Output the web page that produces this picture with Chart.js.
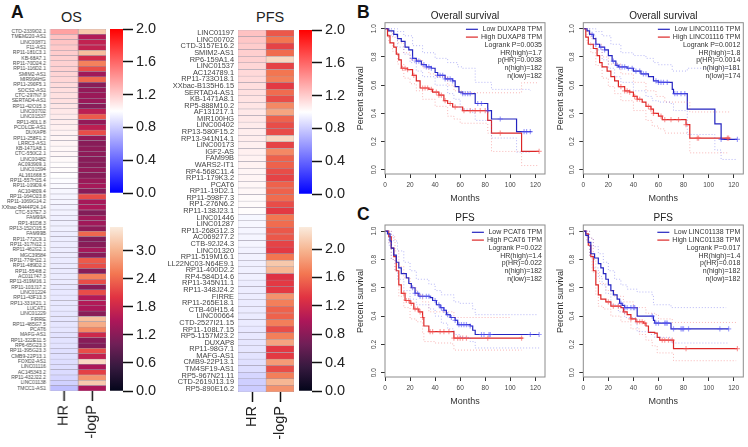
<!DOCTYPE html>
<html><head><meta charset="utf-8">
<script src="https://cdn.jsdelivr.net/npm/chart.js@4"></script>
<style>
html,body{margin:0;padding:0;background:#fff;width:748px;height:447px;overflow:hidden;font-family:"Liberation Sans",Arial,sans-serif}
canvas{position:absolute;display:block;filter:blur(.35px)}
.t{position:absolute;color:#111;line-height:1;white-space:nowrap}
.l{font-weight:bold;font-size:17.5px}
.h{font-size:14.5px;color:#222}
</style></head><body>
<div class="t l" style="left:11px;top:4px">A</div>
<div class="t l" style="left:357px;top:4px">B</div>
<div class="t l" style="left:357px;top:206px">C</div>
<div class="t h" style="left:61px;top:10px">OS</div>
<div class="t h" style="left:256px;top:10px">PFS</div>
<script>
// ---- Heatmap data ----
const heatColumns=['HR','-logP'];
const osGenes=['CTD-2339O2.1','TMEM220-AS1','LINC00871','F11-AS1','RP11-181C3.1','KB-68A7.1','RP11-70D24.2','RP11-116D2.1','SMIM2-AS1','MIR99AHG','RP11-290F5.1','SOCS2-AS1','CTC-297N7.9','SERTAD4-AS1','RP11-42O15.3','LINC00702','LINC01537','RP11-80L1.8','PCOLCE-AS1','DUXAP8','RP11-258F1.2','LRRC3-AS1','KB-1471A8.1','CTC-550C2.1','LINC00482','AC093909.1','LINC01594','AL161668.5','RP11-557H15.4','RP11-109D9.4','AC104809.4','RP11-164O23.8','RP11-1069G14.2','XXbac-B444P24.14','CTC-537E7.3','FAM99A','RP1-81D8.3','RP13-152O15.5','FAM99B','RP11-772C9.1','RP11-317N12.1','RP11-462G2.1','MGC39584','RP11-776H12.1','RP11-489D2.2','RP11-554I8.2','AC011747.3','RP11-819M16.1','RP11-103J17.2','LINC01224','RP11-43F13.3','RP11-331K21.1','LUCAT1','LINC01229','FIRRE','RP11-485G7.5','PCAT6','MAFG-AS1','RP11-322E11.5','RP6-65G23.3','RP11-395G23.3','CMB9-22P13.1','FOXD2-AS1','LINC01116','AC145343.2','RP11-432J22.2','LINC01138','TMCC1-AS1'];
const osHR=[1.37,1.24,1.23,1.21,1.2,1.19,1.18,1.18,1.17,1.16,1.14,1.13,1.12,1.12,1.1,1.09,1.08,1.07,1.06,1.05,1.04,1.04,1.03,1.03,1.02,1.01,1.01,1,.99,.98,.97,.96,.96,.95,.95,.94,.94,.94,.93,.93,.93,.93,.93,.92,.92,.92,.92,.92,.91,.91,.91,.91,.91,.9,.9,.9,.9,.89,.89,.89,.88,.88,.87,.87,.86,.84,.82,.75];
const osLogP=[3.2,1.55,1.7,1.7,3.1,1.85,2.6,2.2,1.4,2.4,1.2,1.3,1.35,1.35,1.2,1.65,2.3,1.3,1.65,2.2,1.3,1.2,1.25,1.25,1.2,1.2,1.3,1.2,1.35,1.45,1.2,2.2,1.45,1.5,1.15,1.4,1.4,1.25,2.4,1.15,1.2,1.45,1.2,2.3,2.2,1.2,2.6,2.2,1.2,2.2,1.55,1.55,1.5,1.2,3.1,2.95,2.65,1.8,1.2,1.15,2.2,1.7,3.35,1.5,2.1,2.75,3.2,1.5];
const pfsGenes=['LINC01197','LINC00702','CTD-3157E16.2','SMIM2-AS1','RP6-159A1.4','LINC01537','AC124789.1','RP11-733O18.1','XXbac-B135H6.15','SERTAD4-AS1','KB-1471A8.1','RP5-888M10.2','AF131217.1','MIR100HG','LINC00402','RP13-580F15.2','RP13-941N14.1','LINC00173','IGF2-AS','FAM99B','WARS2-IT1','RP4-568C11.4','RP11-179K3.2','PCAT6','RP11-19D2.1','RP11-598F7.3','RP1-276N6.2','RP11-138J23.1','LINC01446','LINC01287','RP11-268G12.3','AC069277.2','CTB-92J24.3','LINC01320','RP11-519M16.1','LL22NC03-N64E9.1','RP11-400D2.2','RP4-584D14.6','RP11-345N11.1','RP11-348J24.2','FIRRE','RP11-265E18.1','CTB-40H15.4','LINC00664','CTD-2527I21.15','RP11-108L7.15','RP5-1157M23.2','DUXAP8','RP11-98G7.1','MAFG-AS1','CMB9-22P13.1','TM4SF19-AS1','RP5-967N21.11','CTD-2619J13.19','RP5-890E16.2'];
const pfsHR=[1.24,1.22,1.2,1.19,1.18,1.16,1.15,1.14,1.13,1.12,1.11,1.1,1.09,1.09,1.08,1.07,1.07,1.06,1.06,1.05,1.05,1.04,1.04,1.03,1.03,1.02,1.02,1.01,.97,.97,.96,.96,.96,.95,.95,.94,.94,.94,.93,.93,.93,.92,.92,.92,.92,.91,.91,.9,.9,.89,.88,.87,.84,.81,.8];
const pfsLogP=[1.5,1.65,1.4,1.6,2.2,1.4,1.65,1.7,1.35,1.6,1.45,1.75,1.9,1.55,1.45,1.45,2.2,1.4,1.75,1.55,1.55,1.45,1.4,1.55,1.55,1.6,1.45,1.35,1.65,1.6,1.5,1.5,1.4,1.35,1.65,2.1,2.0,1.3,1.35,1.35,1.8,1.7,1.55,1.55,1.7,1.45,1.7,1.9,1.35,1.35,1.85,1.45,1.7,2.0,1.8];
const hrRange=[0,2], osLogPRange=[0,3.51], pfsLogPRange=[0,2.31];

// ---- Survival data ----
const monthTicks=[0,20,40,60,80,100,120], survivalTicks=[0,.2,.4,.6,.8,1];
// B left: DUXAP8
const b1LowM=[0,3,7,10,13,16,19,22,25,29,33,37,40,42,48,54,56,59,62,72,82,85,105,117];
const b1LowS=[1,.985,.96,.93,.91,.87,.85,.79,.77,.745,.73,.72,.69,.67,.645,.63,.59,.55,.54,.47,.42,.36,.27,.27];
const b1HighM=[0,2,4,7,9,11,13,18,22,25,28,35,38,43,47,50,54,62,82,85,109,123];
const b1HighS=[1,.95,.9,.87,.82,.78,.72,.71,.67,.63,.58,.57,.55,.53,.49,.47,.445,.42,.35,.26,.13,.13];
const b1LowUpM=[0,5,10,15,22,30,40,50,58,62,72,85,116], b1LowUpS=[1,1,.98,.95,.88,.83,.79,.76,.73,.72,.62,.57,.56];
const b1LowLoM=[0,5,10,15,20,25,30,40,50,55,60,70,72,85,105,117], b1LowLoS=[1,.95,.87,.82,.76,.7,.66,.6,.54,.5,.43,.4,.35,.225,.125,.125];
const b1HighUpM=[0,3,6,10,15,20,30,35,40,50,55,61,109,122], b1HighUpS=[1,.98,.94,.9,.83,.78,.72,.68,.66,.6,.56,.546,.617,.617];
const b1HighLoM=[0,3,6,10,15,20,25,30,40,50,55,60,82,85,109,122], b1HighLoS=[1,.9,.84,.75,.65,.61,.56,.5,.45,.38,.36,.33,.26,.13,.03,.03];
const b1LowCens=[22,25,27,31,33,35,37,42,44,46,48,50,52,54,62,64,66,68,74,77,82,92,111,113,116];
const b1HighCens=[14,16,18,23,30,32,34,37,41,43,45,48,52,56,63,68,72,76,80,92,123];
const b1Notes=['Low DUXAP8 TPM','High DUXAP8 TPM','Logrank P=0.0035','HR(high)=1.7','p(HR)=0.0038','n(high)=182','n(low)=182'];
// B right: LINC01116
const b2LowM=[0,3,5,8,10,13,17,20,23,26,28,35,40,46,52,56,60,71,72,83,105,110,123];
const b2LowS=[1,.985,.96,.93,.89,.87,.85,.81,.77,.74,.73,.72,.7,.68,.66,.63,.62,.57,.54,.43,.325,.215,.215];
const b2HighM=[0,2,4,8,11,13,15,19,22,25,28,33,37,40,43,47,50,54,56,60,63,82,85,117];
const b2HighS=[1,.94,.89,.86,.81,.76,.73,.7,.66,.63,.59,.56,.55,.52,.5,.48,.45,.43,.4,.38,.355,.32,.225,.225];
const b2LowUpM=[0,5,10,15,22,30,40,50,56,60,71,83,123], b2LowUpS=[1,1,.98,.95,.89,.83,.81,.79,.76,.745,.7,.72,.72];
const b2LowLoM=[0,5,10,15,20,25,30,40,50,55,60,70,72,83,105,110,123], b2LowLoS=[1,.95,.85,.78,.72,.66,.62,.56,.52,.49,.48,.47,.42,.25,.14,.073,.073];
const b2HighUpM=[0,3,6,10,15,20,30,40,50,58,65,85,117], b2HighUpS=[1,.97,.93,.89,.8,.75,.68,.62,.56,.52,.48,.41,.41];
const b2HighLoM=[0,3,6,10,15,20,25,30,40,50,55,60,65,85,115], b2HighLoS=[1,.9,.83,.74,.65,.59,.54,.49,.42,.35,.31,.29,.26,.12,.12];
const b2LowCens=[7,10,14,17,24,27,29,31,33,36,39,42,45,48,50,58,60,62,64,67,73,75,78,81,110,123];
const b2HighCens=[30,33,35,37,41,43,45,52,54,56,62,65,70,76,82,91,92,115,116];
const b2Notes=['Low LINC01116 TPM','High LINC01116 TPM','Logrank P=0.0012','HR(high)=1.8','p(HR)=0.0014','n(high)=181','n(low)=174'];
// C left: PCAT6
const c1LowM=[0,2,4,5,7,9,11,13,17,19,21,24,27,36,38,41,44,47,49,52,56,58,68,70,72,123];
const c1LowS=[1,.98,.93,.88,.83,.78,.74,.7,.67,.63,.6,.56,.54,.53,.51,.48,.46,.44,.41,.39,.37,.34,.33,.3,.27,.27];
const c1HighM=[0,3,5,7,9,11,13,16,20,23,27,30,31,35,55,110];
const c1HighS=[1,.96,.88,.82,.72,.62,.56,.51,.49,.45,.43,.39,.33,.29,.245,.245];
const c1LowUpM=[0,5,7,10,15,20,25,35,40,45,55,60,70,72,122], c1LowUpS=[1,.97,.93,.86,.78,.72,.66,.625,.58,.55,.5,.49,.45,.41,.41];
const c1LowLoM=[0,3,5,8,10,15,20,25,35,40,45,50,55,60,68,72,123], c1LowLoS=[1,.9,.8,.72,.66,.58,.52,.48,.45,.4,.35,.31,.27,.25,.22,.175,.175];
const c1HighUpM=[0,3,5,8,11,15,20,25,30,35,55,100], c1HighUpS=[1,1,.96,.86,.75,.67,.6,.55,.5,.43,.39,.39];
const c1HighLoM=[0,3,5,8,11,15,20,25,30,31,40,54,55,109], c1HighLoS=[1,.92,.8,.72,.54,.46,.38,.36,.28,.22,.21,.2,.16,.16];
const c1LowCens=[22,24,26,28,30,33,35,40,43,45,47,50,53,56,59,61,63,65,68,77,79,83,84,116,123];
const c1HighCens=[15,17,19,21,24,26,28,30,36,38,44,47,51,55,58,60,62,65,82,109];
const c1Notes=['Low PCAT6 TPM','High PCAT6 TPM','Logrank P=0.022','HR(high)=1.4','p(HR)=0.022','n(high)=182','n(low)=182'];
// C right: LINC01138
const c2LowM=[0,2,4,6,9,12,14,16,18,20,22,24,27,29,31,33,43,54,56,57,70,116];
const c2LowS=[1,.97,.92,.84,.81,.77,.74,.7,.66,.62,.58,.55,.52,.49,.475,.46,.4,.4,.37,.35,.31,.31];
const c2HighM=[0,2,4,6,8,10,12,14,18,22,30,32,35,38,42,48,50,52,57,59,61,72,123];
const c2HighS=[1,.98,.9,.82,.72,.62,.55,.52,.5,.47,.46,.43,.41,.38,.36,.35,.33,.285,.28,.25,.23,.17,.17];
const c2LowUpM=[0,3,5,8,12,16,20,25,30,35,43,55,56,70,114], c2LowUpS=[1,1,.95,.89,.84,.78,.72,.66,.62,.59,.57,.54,.48,.46,.46];
const c2LowLoM=[0,3,5,8,12,15,18,22,28,33,42,43,54,57,70,115], c2LowLoS=[1,.93,.83,.74,.68,.62,.56,.48,.43,.39,.34,.29,.27,.25,.21,.21];
const c2HighUpM=[0,3,5,8,10,13,18,25,32,40,50,57,60,71,122], c2HighUpS=[1,1,.95,.8,.71,.63,.58,.54,.5,.46,.42,.41,.38,.355,.355];
const c2HighLoM=[0,3,5,7,10,12,16,22,30,38,45,50,55,59,72,122], c2HighLoS=[1,.93,.82,.71,.55,.47,.45,.4,.36,.31,.27,.23,.19,.14,.085,.085];
const c2LowCens=[30,33,35,38,40,41,55,58,60,65,66,67,72,78,79,80,84,109,116];
const c2HighCens=[20,24,28,33,38,43,45,47,49,63,65,68,71,82,123];
const c2Notes=['Low LINC01138 TPM','High LINC01138 TPM','Logrank P=0.017','HR(high)=1.4','p(HR)=0.018','n(high)=182','n(low)=182'];

// ---- Colour maps ----
const hexRgb=h=>[1,3,5].map(i=>parseInt(h.substr(i,2),16));
const bwrStops=['#0000ff','#ffffff','#ff0000'];
const rocketStops=['#03051a','#35193e','#701f57','#ad1759','#e13342','#f37651','#f6b48f','#faebdd'];
function ramp(stops,t){
  t=Math.max(0,Math.min(1,t))*(stops.length-1);
  const i=Math.min(Math.floor(t),stops.length-2),f=t-i,a=hexRgb(stops[i]),b=hexRgb(stops[i+1]);
  return 'rgb('+a.map((v,k)=>Math.round(v+(b[k]-v)*f)).join(',')+')';
}
function add(id,left,top,w,h){
  const c=document.createElement('canvas');c.id=id;c.width=w;c.height=h;
  c.style.left=left+'px';c.style.top=top+'px';c.style.width=w+'px';c.style.height=h+'px';
  document.body.appendChild(c);return c;
}
Chart.defaults.font.family='"Liberation Sans",Arial,sans-serif';
Chart.defaults.animation=false;
const noPlugins={legend:{display:false},tooltip:{enabled:false},title:{display:false}};
const noPad=s=>{s.paddingLeft=0;s.paddingRight=0;s.paddingTop=0;s.paddingBottom=0};

function heatmap(id,genes,hr,logp,logpMax,box,labelFont){
  new Chart(add(id,0,box.top,box.right+3,box.height),{
    type:'bar',
    data:{labels:genes,datasets:[
      {data:genes.map((g,i)=>({y:g,x:[0,1]})),backgroundColor:hr.map(v=>ramp(bwrStops,v/hrRange[1])),borderColor:'#9d97a6',borderWidth:.5,borderSkipped:false},
      {data:genes.map((g,i)=>({y:g,x:[1,2]})),backgroundColor:logp.map(v=>ramp(rocketStops,v/logpMax)),borderColor:'#9d97a6',borderWidth:.5,borderSkipped:false}
    ]},
    options:{indexAxis:'y',responsive:false,devicePixelRatio:1,
      layout:{autoPadding:false,padding:{top:box.pad,right:3,left:0,bottom:0}},
      plugins:noPlugins,
      datasets:{bar:{categoryPercentage:1,barPercentage:1,grouped:false}},
      scales:{
        x:{type:'linear',min:0,max:2,
          afterBuildTicks:s=>{s.ticks=heatColumns.map((n,i)=>({value:i+.5}))},
          afterFit:s=>{s.height=box.axisH;noPad(s)},
          ticks:{callback:v=>heatColumns[v-.5],autoSkip:false,minRotation:90,maxRotation:90,color:'#222',font:{size:14.5},padding:4},
          grid:{drawOnChartArea:false,drawTicks:true,tickLength:10,tickWidth:1.5,tickColor:'#111'},border:{display:false}},
        y:{type:'category',
          afterFit:s=>{s.width=box.left;noPad(s)},
          ticks:{autoSkip:false,color:'#444',font:{size:labelFont},padding:4},
          grid:{display:false,drawTicks:false},border:{display:false}}
      }}
  });
}
function colorbar(id,left,top,stops,max,step,areaH){
  new Chart(add(id,left-5,top-9,65,areaH+18),{
    type:'bar',
    data:{labels:[''],datasets:[{data:[[0,max]],
      backgroundColor:c=>{
        const a=c.chart.chartArea;if(!a)return stops[0];
        const g=c.chart.ctx.createLinearGradient(0,a.bottom,0,a.top);
        stops.forEach((s,i)=>g.addColorStop(i/(stops.length-1),s));return g;
      },categoryPercentage:1,barPercentage:1,borderWidth:0}]},
    options:{responsive:false,devicePixelRatio:1,plugins:noPlugins,
      layout:{autoPadding:false,padding:{left:5,top:9,bottom:9,right:0}},
      scales:{
        x:{display:false},
        y:{type:'linear',position:'right',min:0,max:max,
          afterFit:s=>{s.width=47;noPad(s)},
          ticks:{stepSize:step,includeBounds:false,callback:v=>v.toFixed(1),color:'#222',font:{size:14.5},padding:3},
          grid:{drawOnChartArea:false,tickLength:10,tickWidth:1.5,tickColor:'#111'},border:{display:false}}
      }}
  });
}
const zip=(m,s)=>m.map((x,i)=>({x,y:s[i]}));
const stepAt=(m,s,t)=>{let v=s[0];m.forEach((x,i)=>{if(x<=t)v=s[i]});return v};
const lowC='#2424c0',highC='#dc2626',lowCI='rgba(90,90,235,.55)',highCI='rgba(240,90,90,.55)';
function ci(m,s,c){return {data:zip(m,s),borderColor:c,borderWidth:.8,borderDash:[1,2],stepped:'before',pointRadius:0,fill:false}}
function cens(m,s,t,c){return {data:t.map(x=>({x,y:stepAt(m,s,x)})),showLine:false,pointStyle:'cross',pointRadius:2.6,pointBorderWidth:1.2,pointBorderColor:c,pointBackgroundColor:c}}
function main(m,s,c){return {data:zip(m,s),borderColor:c,borderWidth:1.2,stepped:'before',pointRadius:0,fill:false}}
const frame={id:'frame',afterDraw(ch){
  const a=ch.chartArea,g=ch.ctx,n=ch.config.options.notes,H=ch.config.options.notesOffset;
  g.save();g.strokeStyle='#8c8c8c';g.lineWidth=1;g.strokeRect(a.left,a.top,a.width,a.height);
  g.font='7px "Liberation Sans",Arial,sans-serif';g.textBaseline='middle';
  const R=a.right-3,wid=Math.max(g.measureText(n[0]).width,g.measureText(n[1]).width);
  n.forEach((t,i)=>{
    const y=a.top+H+7.8*i;
    g.fillStyle='#333';g.textAlign='right';g.fillText(t,R,y);
    if(i<2){g.strokeStyle=i?highC:lowC;g.lineWidth=1.2;g.beginPath();g.moveTo(R-wid-15,y);g.lineTo(R-wid-3,y);g.stroke();}
  });
  g.restore();
}};
function survival(id,left,top,h,areaTop,title,titlePad,S){
  const datasets=[
    ci(S.lowUp[0],S.lowUp[1],lowCI),ci(S.lowLo[0],S.lowLo[1],lowCI),
    ci(S.highUp[0],S.highUp[1],highCI),ci(S.highLo[0],S.highLo[1],highCI),
    cens(S.low[0],S.low[1],S.lowC,'rgba(85,85,245,.55)'),
    cens(S.high[0],S.high[1],S.highC,'rgba(245,85,85,.55)'),
    main(S.low[0],S.low[1],lowC),main(S.high[0],S.high[1],highC)];
  new Chart(add(id,left,top,198,h),{
    type:'line',plugins:[frame],
    data:{datasets},
    options:{responsive:false,devicePixelRatio:1,notes:S.notes,notesOffset:S.noteY,
      layout:{autoPadding:false,padding:{right:S.padR,left:0,top:0,bottom:0}},
      plugins:{legend:{display:false},tooltip:{enabled:false},
        title:{display:true,text:title,fullSize:false,color:'#222',font:{size:10,weight:'normal'},padding:titlePad}},
      scales:{
        x:{type:'linear',min:0,max:127.7,
          afterBuildTicks:s=>{s.ticks=monthTicks.map(value=>({value}))},
          afterFit:s=>{s.height=31;noPad(s)},
          ticks:{color:'#444',font:{size:6.5},padding:3,maxRotation:0},
          grid:{drawOnChartArea:false,tickLength:4,tickColor:'#333'},border:{display:false},
          title:{display:true,text:'Months',color:'#333',font:{size:9},padding:{top:0,bottom:1.5}}},
        y:{type:'linear',min:-.03,max:1.043,
          afterBuildTicks:s=>{s.ticks=survivalTicks.map(value=>({value}))},
          afterFit:s=>{s.width=S.axisW;noPad(s)},
          ticks:{color:'#444',font:{size:6.5},padding:2.5,minRotation:90,maxRotation:90,crossAlign:'center',callback:v=>v.toFixed(1)},
          grid:{drawOnChartArea:false,tickLength:4,tickColor:'#333'},border:{display:false},
          title:{display:true,text:'Percent survival',color:'#333',font:{size:9},padding:{top:5,bottom:0}}}
      }}
  });
}
heatmap('osHeat',osGenes,osHR,osLogP,osLogPRange[1],{top:25,height:422,left:49.5,right:105.5,pad:4,axisH:56},5);
heatmap('pfsHeat',pfsGenes,pfsHR,pfsLogP,pfsLogPRange[1],{top:26,height:421,left:238,right:294,pad:4,axisH:55},7.4);
colorbar('osTop',110,29.3,bwrStops,2,.4,164);
colorbar('osBot',110,227,rocketStops,osLogPRange[1],.6,164);
colorbar('pfsTop',299,30,bwrStops,2,.4,164);
colorbar('pfsBot',299,227,rocketStops,pfsLogPRange[1],.4,164);
survival('b1',350,0,205,22.7,'Overall survival',{top:10,bottom:.7},{low:[b1LowM,b1LowS],high:[b1HighM,b1HighS],lowUp:[b1LowUpM,b1LowUpS],lowLo:[b1LowLoM,b1LowLoS],highUp:[b1HighUpM,b1HighUpS],highLo:[b1HighLoM,b1HighLoS],lowC:b1LowCens,highC:b1HighCens,notes:b1Notes,noteY:6.6,axisW:35,padR:3});
survival('b2',550,0,205,22.7,'Overall survival',{top:10,bottom:.7},{low:[b2LowM,b2LowS],high:[b2HighM,b2HighS],lowUp:[b2LowUpM,b2LowUpS],lowLo:[b2LowLoM,b2LowLoS],highUp:[b2HighUpM,b2HighUpS],highLo:[b2HighLoM,b2HighLoS],lowC:b2LowCens,highC:b2HighCens,notes:b2Notes,noteY:6.6,axisW:33.3,padR:4.7});
survival('c1',350,205,203,225,'PFS',{top:7,bottom:1},{low:[c1LowM,c1LowS],high:[c1HighM,c1HighS],lowUp:[c1LowUpM,c1LowUpS],lowLo:[c1LowLoM,c1LowLoS],highUp:[c1HighUpM,c1HighUpS],highLo:[c1HighLoM,c1HighLoS],lowC:c1LowCens,highC:c1HighCens,notes:c1Notes,noteY:7.3,axisW:35,padR:3});
survival('c2',550,205,203,225,'PFS',{top:7,bottom:1},{low:[c2LowM,c2LowS],high:[c2HighM,c2HighS],lowUp:[c2LowUpM,c2LowUpS],lowLo:[c2LowLoM,c2LowLoS],highUp:[c2HighUpM,c2HighUpS],highLo:[c2HighLoM,c2HighLoS],lowC:c2LowCens,highC:c2HighCens,notes:c2Notes,noteY:7.3,axisW:33.3,padR:4.7});
</script>
</body></html>
